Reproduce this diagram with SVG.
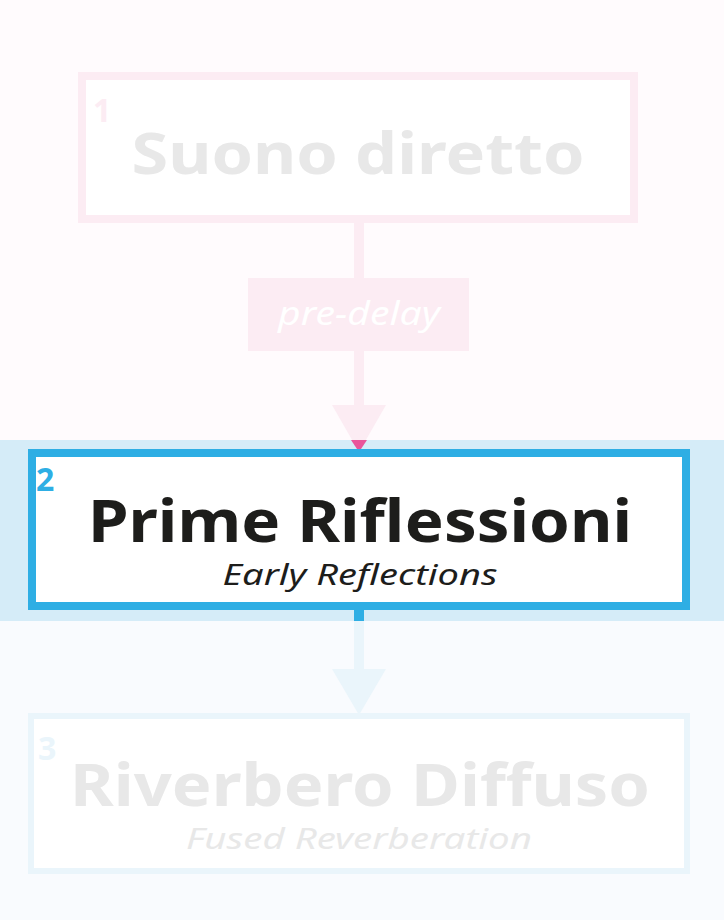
<svg xmlns="http://www.w3.org/2000/svg" width="724" height="920" viewBox="0 0 724 920">
<style>
.t{font-family:"Noto Sans","Liberation Sans",sans-serif;font-weight:bold;text-anchor:middle}
.s{font-family:"Noto Sans","Liberation Sans",sans-serif;font-style:italic;text-anchor:middle}
.n{font-family:"Noto Sans","Liberation Sans",sans-serif;font-weight:bold;font-size:32px}
</style>
<rect x="0" y="0" width="724" height="440" fill="#fffbfd"/>
<rect x="0" y="621" width="724" height="299" fill="#f9fbfe"/>
<rect x="0" y="440" width="724" height="181" fill="#d5ecf8"/>
<g id="connectors">
<rect x="354" y="222" width="10" height="56" fill="#fcecf3"/>
<rect x="354" y="351" width="10" height="56" fill="#fcecf3"/>
<polygon points="332,405 386,405 359,452" fill="#fcecf3"/>
<polygon points="351,440 367,440 359,452" fill="#e9559b"/>
<rect x="354" y="610" width="10" height="12" fill="#2eaee4"/>
<rect x="354" y="621" width="10" height="50" fill="#eaf5fb"/>
<polygon points="332,669 386,669 359,715" fill="#eaf5fb"/>
</g>
<g id="predelay">
<rect x="248" y="278" width="221" height="73" fill="#fcecf3"/>
<text class="s" x="359" y="325" font-size="32" fill="#ffffff" textLength="162" lengthAdjust="spacingAndGlyphs">pre-delay</text>
</g>
<g id="node1">
<rect x="82" y="76" width="552" height="143" fill="#ffffff" stroke="#fcecf3" stroke-width="8"/>
<text class="n" x="93" y="122" fill="#fcecf3">1</text>
<text class="t" x="358" y="174" font-size="58" fill="#e8e8e8" textLength="453" lengthAdjust="spacingAndGlyphs">Suono diretto</text>
</g>
<g id="node2">
<rect x="32" y="453" width="654" height="153" fill="#ffffff" stroke="#2eaee4" stroke-width="8"/>
<text class="n" x="36" y="491" fill="#2eaee4">2</text>
<text class="t" x="360" y="542" font-size="60" fill="#1d1d1b" textLength="544" lengthAdjust="spacingAndGlyphs">Prime Riflessioni</text>
<text class="s" x="360" y="585" font-size="29" fill="#1d1d1b" textLength="275" lengthAdjust="spacingAndGlyphs">Early Reflections</text>
</g>
<g id="node3">
<rect x="31" y="716" width="656" height="155" fill="#ffffff" stroke="#eaf5fb" stroke-width="6"/>
<text class="n" x="38" y="760" fill="#eaf5fb">3</text>
<text class="t" x="360" y="806" font-size="60" fill="#e8e8e8" textLength="580" lengthAdjust="spacingAndGlyphs">Riverbero Diffuso</text>
<text class="s" x="359" y="849" font-size="29" fill="#e8e8e8" textLength="346" lengthAdjust="spacingAndGlyphs">Fused Reverberation</text>
</g>
</svg>
